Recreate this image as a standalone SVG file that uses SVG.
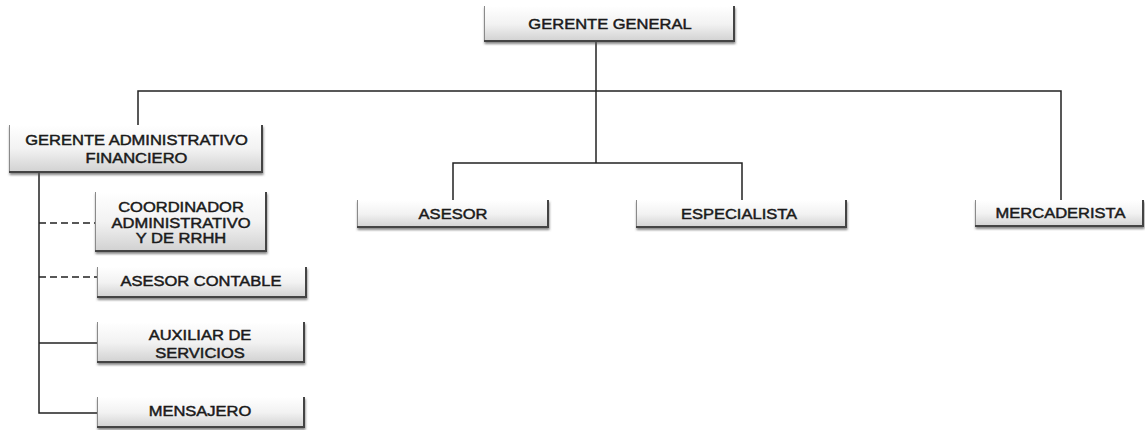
<svg xmlns="http://www.w3.org/2000/svg" width="1145" height="430" viewBox="0 0 1145 430">
  <style>
    .box { fill: url(#boxFill); filter: url(#soft); }
    .edgeL { fill: none; stroke: #8a8a8a; stroke-width: 1; }
    .edgeRB { fill: none; stroke: #444; stroke-width: 2; }
    .lbl { font-family: "Liberation Sans", Arial, sans-serif; font-size: 14px; fill: #1a1a1a; stroke: #1a1a1a; stroke-width: 0.45; text-anchor: middle; }
    .wire { fill: none; stroke: #222; stroke-width: 1.5; }
    .dash { fill: none; stroke: #222; stroke-width: 1.5; stroke-dasharray: 7 4; }
  </style>
  <defs>
    <linearGradient id="boxFill" x1="0" y1="0" x2="0" y2="1">
      <stop offset="0" stop-color="#ffffff"/>
      <stop offset="0.5" stop-color="#f2f2f2"/>
      <stop offset="1" stop-color="#d0d0d0"/>
    </linearGradient>
    <filter id="soft" x="-10%" y="-20%" width="120%" height="150%">
      <feDropShadow dx="0.5" dy="2" stdDeviation="1.2" flood-color="#555" flood-opacity="0.7"/>
    </filter>
  </defs>
  <rect width="1145" height="430" fill="#ffffff"/>

  <g id="connectors">
    <path class="wire" d="M596 42 V163"/>
    <path class="wire" d="M138 125 V91 H1061 V200"/>
    <path class="wire" d="M453 200 V163 H742 V200"/>
    <path class="wire" d="M39 173 V413 H97"/>
    <path class="wire" d="M39 343 H97"/>
    <path class="dash" d="M39 223 H95"/>
    <path class="dash" d="M39 277 H97"/>
  </g>

  <g id="gerente-general">
    <rect class="box" x="484" y="6" width="251" height="36"/>
    <path class="edgeL" d="M484.5 6 V42"/>
    <path class="edgeRB" d="M734 6 V41 H484"/>
    <text class="lbl" transform="translate(610 28.5) scale(1.18 1)">GERENTE GENERAL</text>
  </g>

  <g id="gerente-administrativo">
    <rect class="box" x="9" y="125" width="254" height="48"/>
    <path class="edgeL" d="M9.5 125 V173"/>
    <path class="edgeRB" d="M262 125 V172 H9"/>
    <text class="lbl" transform="translate(136.5 145) scale(1.18 1)">GERENTE ADMINISTRATIVO<tspan x="0" dy="18">FINANCIERO</tspan></text>
  </g>

  <g id="coordinador">
    <rect class="box" x="95" y="192" width="172" height="60"/>
    <path class="edgeL" d="M95.5 192 V252"/>
    <path class="edgeRB" d="M266 192 V251 H95"/>
    <text class="lbl" transform="translate(181 212) scale(1.18 1)">COORDINADOR<tspan x="0" dy="15.7">ADMINISTRATIVO</tspan><tspan x="0" dy="15.5">Y DE RRHH</tspan></text>
  </g>

  <g id="asesor-contable">
    <rect class="box" x="97" y="267" width="210" height="31"/>
    <path class="edgeL" d="M97.5 267 V298"/>
    <path class="edgeRB" d="M306 267 V297 H97"/>
    <text class="lbl" transform="translate(201 286) scale(1.18 1)">ASESOR CONTABLE</text>
  </g>

  <g id="auxiliar">
    <rect class="box" x="97" y="322" width="208" height="41"/>
    <path class="edgeL" d="M97.5 322 V363"/>
    <path class="edgeRB" d="M304 322 V362 H97"/>
    <text class="lbl" transform="translate(200 339.5) scale(1.18 1)">AUXILIAR DE<tspan x="0" dy="18.5">SERVICIOS</tspan></text>
  </g>

  <g id="mensajero">
    <rect class="box" x="97" y="397" width="208" height="31"/>
    <path class="edgeL" d="M97.5 397 V428"/>
    <path class="edgeRB" d="M304 397 V427 H97"/>
    <text class="lbl" transform="translate(200 415.5) scale(1.18 1)">MENSAJERO</text>
  </g>

  <g id="asesor">
    <rect class="box" x="357" y="200" width="192" height="28"/>
    <path class="edgeL" d="M357.5 200 V228"/>
    <path class="edgeRB" d="M548 200 V227 H357"/>
    <text class="lbl" transform="translate(453 218.5) scale(1.18 1)">ASESOR</text>
  </g>

  <g id="especialista">
    <rect class="box" x="636" y="200" width="211" height="28"/>
    <path class="edgeL" d="M636.5 200 V228"/>
    <path class="edgeRB" d="M846 200 V227 H636"/>
    <text class="lbl" transform="translate(739 218.5) scale(1.18 1)">ESPECIALISTA</text>
  </g>

  <g id="mercaderista">
    <rect class="box" x="975" y="200" width="169" height="27"/>
    <path class="edgeL" d="M975.5 200 V227"/>
    <path class="edgeRB" d="M1143 200 V226 H975"/>
    <text class="lbl" transform="translate(1060.5 218) scale(1.18 1)">MERCADERISTA</text>
  </g>
</svg>
